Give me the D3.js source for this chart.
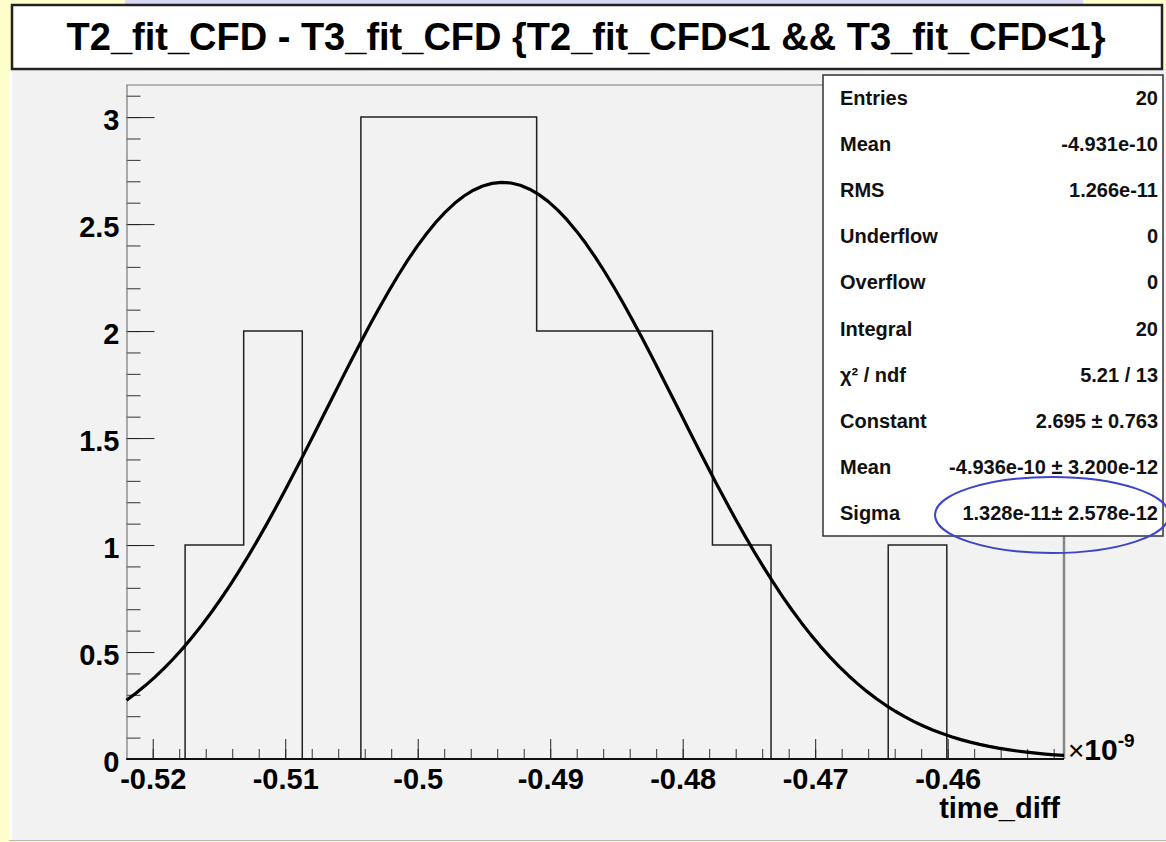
<!DOCTYPE html>
<html>

<head>
	<meta http-equiv="Content-Type" content="text/html; charset=utf-8" />
	<title>T2_fit_CFD - T3_fit_CFD</title>
	<script src="https://cdnjs.cloudflare.com/ajax/libs/d3/7.8.5/d3.min.js"></script>
	<style>
		html, body { margin: 0; padding: 0; background: #ffffcc; overflow: hidden; }
		svg { display: block; }
		text { font-family: "Liberation Sans", Arial, Helvetica, sans-serif; }
	</style>
</head>

<body>
	<div id="mainDiv"></div>

	<script>
		// histogram contents (16 bins), x in units of 1e-9
		const histRange = [-0.52198, -0.45122];
		const binCounts = [0, 1, 2, 0, 3, 3, 3, 2, 2, 2, 1, 0, 0, 1, 0, 0];
		const yRange = [0, 3.15];

		const xTicks = [-0.52, -0.51, -0.5, -0.49, -0.48, -0.47, -0.46];
		const xTickLabels = ["-0.52", "-0.51", "-0.5", "-0.49", "-0.48", "-0.47", "-0.46"];
		const yTicks = [0, 0.5, 1, 1.5, 2, 2.5, 3];
		const yTickLabels = ["0", "0.5", "1", "1.5", "2", "2.5", "3"];

		// gaus fit: constant, mean, sigma (x1e-9)
		const fitParams = [2.695, -0.4936, 0.01328];

		const statLabels = ["Entries", "Mean", "RMS", "Underflow", "Overflow", "Integral",
			"\u03C7\u00B2 / ndf", "Constant", "Mean", "Sigma"];
		const statValues = ["20", "-4.931e-10", "1.266e-11", "0", "0", "20", "5.21 / 13",
			"2.695 \u00B1 0.763", "-4.936e-10 \u00B1 3.200e-12", "1.328e-11\u00B1 2.578e-12"];

		const title = "T2_fit_CFD - T3_fit_CFD {T2_fit_CFD<1 && T3_fit_CFD<1}";

		const W = 1166, H = 842;
		const svg = d3.select("#mainDiv").append("svg").attr("width", W).attr("height", H);

		// slide background bits around the canvas
		svg.append("rect").attr("x", 0).attr("y", 0).attr("width", W).attr("height", H).attr("fill", "#ffffcc");
		svg.append("rect").attr("x", 125).attr("y", 0).attr("width", 958).attr("height", 4).attr("fill", "#d9d9f4");
		svg.append("rect").attr("x", 9).attr("y", 69).attr("width", W - 9).attr("height", 771).attr("fill", "#ffffff");
		svg.append("rect").attr("x", 12).attr("y", 69).attr("width", W - 12).attr("height", 771).attr("fill", "#f2f2f2");
		svg.append("line").attr("x1", 9).attr("x2", W).attr("y1", 840.5).attr("y2", 840.5)
			.attr("stroke", "#b8b8b8").attr("stroke-width", 1);

		// title box
		svg.append("rect").attr("x", 12).attr("y", 5).attr("width", 1150).attr("height", 64)
			.attr("fill", "#ffffff").attr("stroke", "#222").attr("stroke-width", 2.5);
		svg.append("text").attr("x", 586).attr("y", 50).attr("text-anchor", "middle")
			.attr("font-size", 38).attr("font-weight", "bold").attr("fill", "#000").text(title);

		const plot = { left: 126.5, right: 1064, top: 85, bottom: 759 };

		const x = d3.scaleLinear().domain(histRange).range([plot.left, plot.right]);
		const y = d3.scaleLinear().domain(yRange).range([plot.bottom, plot.top]);

		// minor ticks
		const xMinor = d3.range(-0.522, -0.451, 0.002).filter(v => v >= histRange[0] - 1e-9 && v <= histRange[1]);
		const yMinor = d3.range(0, 3.15, 0.1);

		svg.append("g").attr("transform", `translate(0,${plot.bottom})`)
			.call(d3.axisBottom(x).tickValues(xMinor).tickSizeInner(-10).tickSizeOuter(0).tickFormat(""))
			.call(g => g.select(".domain").remove())
			.call(g => g.selectAll("line").attr("stroke", "#333"));

		svg.append("g").attr("transform", `translate(${plot.left},0)`)
			.call(d3.axisLeft(y).tickValues(yMinor).tickSizeInner(-14).tickSizeOuter(0).tickFormat(""))
			.call(g => g.select(".domain").remove())
			.call(g => g.selectAll("line").attr("stroke", "#333"));

		// major ticks + labels
		const xAxis = svg.append("g").attr("transform", `translate(0,${plot.bottom})`)
			.call(d3.axisBottom(x).tickValues(xTicks).tickSizeInner(-20).tickSizeOuter(0).tickPadding(9.5)
				.tickFormat((d, i) => xTickLabels[i]));
		xAxis.select(".domain").remove();
		xAxis.selectAll("line").attr("stroke", "#222");
		xAxis.selectAll("text").attr("font-size", 29).attr("font-weight", "bold").attr("fill", "#000")
			.attr("font-family", "\"Liberation Sans\", Arial, sans-serif");

		const yAxis = svg.append("g").attr("transform", `translate(${plot.left},0)`)
			.call(d3.axisLeft(y).tickValues(yTicks).tickSizeInner(-28).tickSizeOuter(0).tickPadding(7)
				.tickFormat((d, i) => yTickLabels[i]));
		yAxis.select(".domain").remove();
		yAxis.selectAll("line").attr("stroke", "#222");
		yAxis.selectAll("text").attr("font-size", 29).attr("font-weight", "bold").attr("fill", "#000")
			.attr("dy", "0.43em").attr("font-family", "\"Liberation Sans\", Arial, sans-serif");

		// frame
		svg.append("line").attr("x1", plot.left).attr("x2", plot.right).attr("y1", plot.top).attr("y2", plot.top)
			.attr("stroke", "#777").attr("stroke-width", 1.2);
		svg.append("line").attr("x1", plot.left + 0.5).attr("x2", plot.left + 0.5).attr("y1", plot.top).attr("y2", plot.bottom)
			.attr("stroke", "#777").attr("stroke-width", 1.2);
		svg.append("line").attr("x1", plot.right).attr("x2", plot.right).attr("y1", plot.top).attr("y2", plot.bottom)
			.attr("stroke", "#888").attr("stroke-width", 2.5);

		// histogram outline
		const nb = binCounts.length;
		const bw = (histRange[1] - histRange[0]) / nb;
		const steps = [[histRange[0], 0]];
		binCounts.forEach((c, i) => {
			steps.push([histRange[0] + i * bw, c]);
			steps.push([histRange[0] + (i + 1) * bw, c]);
		});
		steps.push([histRange[1], 0]);
		svg.append("path").datum(steps)
			.attr("d", d3.line().x(d => x(d[0])).y(d => y(d[1])))
			.attr("fill", "none").attr("stroke", "#222").attr("stroke-width", 1.5);

		// bottom axis line
		svg.append("line").attr("x1", plot.left).attr("x2", plot.right).attr("y1", plot.bottom).attr("y2", plot.bottom)
			.attr("stroke", "#111").attr("stroke-width", 2);

		// gaussian fit curve
		const gaus = v => fitParams[0] * Math.exp(-0.5 * Math.pow((v - fitParams[1]) / fitParams[2], 2));
		const fitX = d3.range(0, 101).map(i => histRange[0] + i * (histRange[1] - histRange[0]) / 100);
		svg.append("path").datum(fitX)
			.attr("d", d3.line().x(d => x(d)).y(d => y(gaus(d))))
			.attr("fill", "none").attr("stroke", "#000").attr("stroke-width", 3.2)
			.attr("stroke-linejoin", "round");

		// x10^-9 and axis title
		const exp = svg.append("text").attr("x", 1068).attr("y", 760).attr("fill", "#000");
		exp.append("tspan").attr("font-size", 28).text("\u00D7");
		exp.append("tspan").attr("font-size", 30).attr("font-weight", "bold").text("10");
		exp.append("tspan").attr("font-size", 19).attr("font-weight", "bold").attr("dy", -13).text("-9");

		svg.append("text").attr("x", 1060).attr("y", 818).attr("text-anchor", "end")
			.attr("font-size", 29).attr("font-weight", "bold").attr("fill", "#000").text("time_diff");

		// stats box
		const sb = { x: 823, y: 75, w: 340, h: 461 };
		svg.append("rect").attr("x", sb.x).attr("y", sb.y).attr("width", sb.w).attr("height", sb.h)
			.attr("fill", "#ffffff").attr("stroke", "#333").attr("stroke-width", 1.5);
		const rowH = sb.h / statLabels.length;
		const rows = svg.append("g").selectAll("g").data(statLabels).join("g")
			.attr("transform", (d, i) => `translate(0,${sb.y + rowH * (i + 0.5) + 7})`);
		rows.append("text").attr("x", 840).attr("font-size", 20).attr("font-weight", "bold")
			.attr("fill", "#111").text(d => d);
		rows.append("text").attr("x", 1158).attr("text-anchor", "end").attr("font-size", 20)
			.attr("font-weight", "bold").attr("fill", "#111").text((d, i) => statValues[i]);

		// blue circle around sigma
		svg.append("ellipse").attr("cx", 1052).attr("cy", 515).attr("rx", 117).attr("ry", 38)
			.attr("fill", "none").attr("stroke", "#3c44c8").attr("stroke-width", 2);
	</script>
</body>

</html>
